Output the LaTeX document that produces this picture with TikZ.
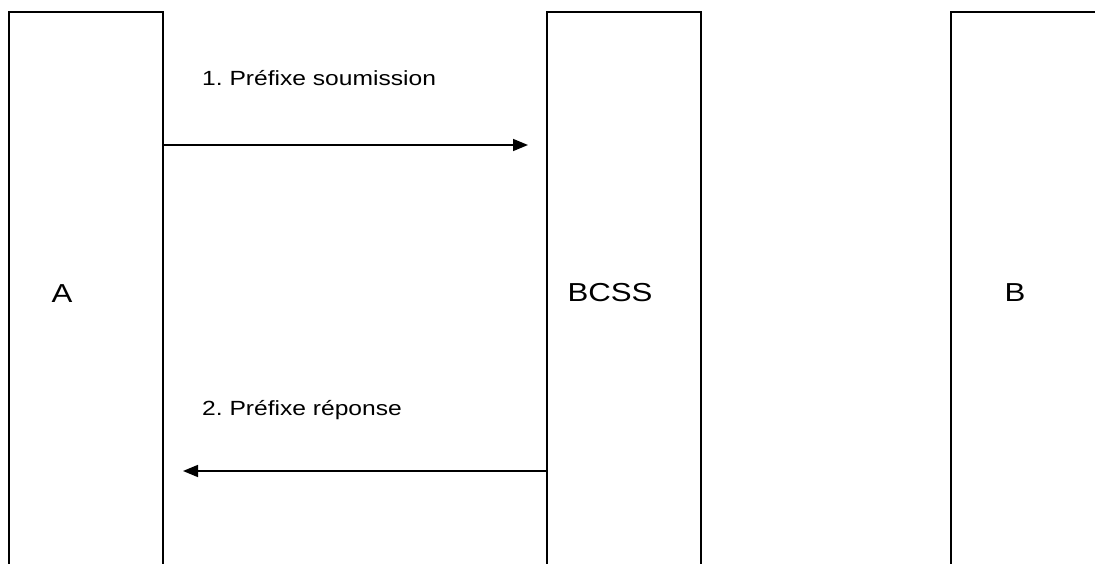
\documentclass[tikz,border=0pt]{standalone}
\usepackage{fontspec}
\setmainfont{Liberation Sans}[FakeStretch=1.2]
\usetikzlibrary{arrows.meta}
\frenchspacing
\begin{document}
\begin{tikzpicture}[x=1bp,y=-1bp,
  lane/.style={draw=black,line width=1.6bp,minimum width=#1,minimum height=579bp,inner sep=0pt,anchor=north west},
  lanelabel/.style={font=\fontsize{26bp}{30bp}\selectfont,inner sep=0pt,anchor=base},
  msg/.style={font=\fontsize{20.5bp}{24bp}\selectfont,inner sep=0pt,anchor=base west},
  arr/.style={line width=1.6bp,-{Triangle[length=15bp,width=12bp]}}]
\useasboundingbox (0,0) rectangle (1095,564);
\clip (0,0) rectangle (1095,564);
\node[lane=154bp] (A) at (8,11) {};
\node[lane=154bp] (BCSS) at (546,11) {};
\node[lane=200bp] (B) at (950,11) {};
\node[lanelabel] (tA) at (62,303) {A};
\node[lanelabel] (tBCSS) at (610,302) {BCSS};
\node[lanelabel] (tB) at (1015,302) {B};
\node[msg] (l1) at (202,86) {1. Préfixe soumission};
\node[msg] (l2) at (202,415) {2. Préfixe réponse};
\coordinate (m1) at (528,145);
\coordinate (m2) at (183,471);
\draw[arr] (A.east |- m1) -- (m1);
\draw[arr] (BCSS.west |- m2) -- (m2);
\end{tikzpicture}
\end{document}
